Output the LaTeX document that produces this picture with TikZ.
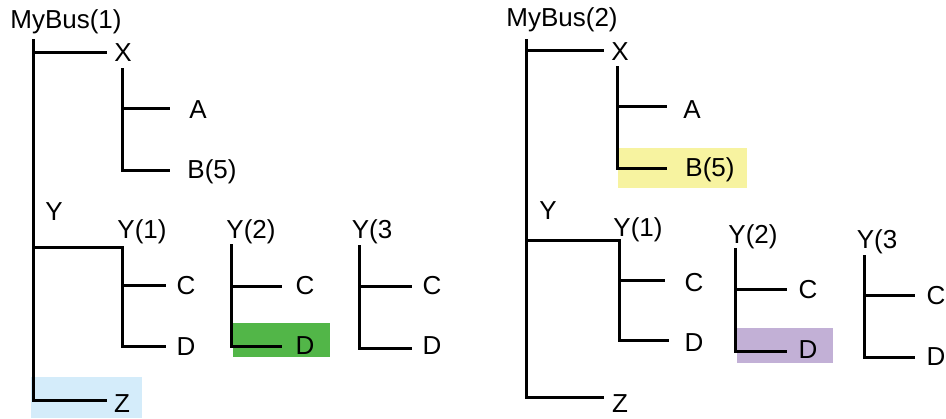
\documentclass[tikz,border=0pt]{standalone}
\usepackage{fontspec}
\setmainfont{Liberation Sans}
\usetikzlibrary{positioning}
\definecolor{ZoneBlue}{RGB}{212,236,250}
\definecolor{HitGreen}{RGB}{82,182,72}
\definecolor{MarkYellow}{RGB}{247,243,160}
\definecolor{MarkPurple}{RGB}{194,176,214}
\tikzset{
  lbl/.style={inner sep=0pt,font=\fontsize{13}{15}\selectfont},
  branch/.style={line width=1.5pt,draw=black,line cap=rect},
  hlblue/.style={fill=ZoneBlue},
  hlgreen/.style={fill=HitGreen},
  hlyellow/.style={fill=MarkYellow},
  hlpurple/.style={fill=MarkPurple}
}
\begin{document}
\begin{tikzpicture}[x=0.5pt,y=-0.5pt]
\useasboundingbox (0,0) rectangle (946,418);

% highlights
\fill[hlblue] (31,377) rectangle (142,418);
\fill[hlgreen] (233,323) rectangle (330,357);
\fill[hlyellow] (618,148) rectangle (747,188);
\fill[hlpurple] (737,328) rectangle (833,363);

% left tree
\node[lbl] (bus1) at (66,22) {MyBus(1)};
\node[lbl] (x1) at (123,53) {X};
\node[lbl] (a1) at (198,110) {A};
\node[lbl] (b1) at (212,172) {B(5)};
\node[lbl] (y1) at (54,212) {Y};
\node[lbl] (y11) at (142,232) {Y(1)};
\node[lbl] (c11) at (186,286) {C};
\node[lbl] (d11) at (186,347) {D};
\node[lbl] (y12) at (251,232) {Y(2)};
\node[lbl] (c12) at (305,286) {C};
\node[lbl] (d12) at (305,346) {D};
\node[lbl] (y13) at (372,232) {Y(3};
\node[lbl] (c13) at (432,286) {C};
\node[lbl] (d13) at (432,346) {D};
\node[lbl] (z1) at (122,404) {Z};

\coordinate (s1) at (33,40);
\coordinate (x1e) at (105,52);
\coordinate (z1e) at (105,400);
\coordinate (x1t) at (122,69);
\coordinate (a1e) at (168,108);
\coordinate (b1e) at (168,170);
\coordinate (y1e) at (122,247);
\coordinate (c11e) at (164,285);
\coordinate (d11e) at (164,346);
\coordinate (y12t) at (231,245);
\coordinate (c12e) at (280,286);
\coordinate (d12e) at (280,346);
\coordinate (y13t) at (359,246);
\coordinate (c13e) at (410,286);
\coordinate (d13e) at (410,348);

\draw[branch] (s1) |- (z1e);
\draw[branch] (s1 |- x1e) -- (x1e);
\draw[branch] (x1t) |- (b1e);
\draw[branch] (x1t |- a1e) -- (a1e);
\draw[branch] (s1 |- y1e) -- (y1e) |- (d11e);
\draw[branch] (y1e |- c11e) -- (c11e);
\draw[branch] (y12t) |- (d12e);
\draw[branch] (y12t |- c12e) -- (c12e);
\draw[branch] (y13t) |- (d13e);
\draw[branch] (y13t |- c13e) -- (c13e);

% right tree
\node[lbl] (bus2) at (562,20) {MyBus(2)};
\node[lbl] (x2) at (620,52) {X};
\node[lbl] (a2) at (692,110) {A};
\node[lbl] (b2) at (710,170) {B(5)};
\node[lbl] (y2) at (548,211) {Y};
\node[lbl] (y21) at (638,230) {Y(1)};
\node[lbl] (c21) at (694,283) {C};
\node[lbl] (d21) at (694,343) {D};
\node[lbl] (y22) at (753,237) {Y(2)};
\node[lbl] (c22) at (808,290) {C};
\node[lbl] (d22) at (808,350) {D};
\node[lbl] (y23) at (877,242) {Y(3};
\node[lbl] (c23) at (936,296) {C};
\node[lbl] (d23) at (936,357) {D};
\node[lbl] (z2) at (620,404) {Z};

\coordinate (s2) at (526,40);
\coordinate (x2e) at (602,50);
\coordinate (z2e) at (602,397);
\coordinate (x2t) at (617,67);
\coordinate (a2e) at (665,106);
\coordinate (b2e) at (665,168);
\coordinate (y2e) at (619,240);
\coordinate (c21e) at (663,280);
\coordinate (d21e) at (667,340);
\coordinate (y22t) at (735,249);
\coordinate (c22e) at (785,289);
\coordinate (d22e) at (785,351);
\coordinate (y23t) at (864,256);
\coordinate (c23e) at (913,295);
\coordinate (d23e) at (913,357);

\draw[branch] (s2) |- (z2e);
\draw[branch] (s2 |- x2e) -- (x2e);
\draw[branch] (x2t) |- (b2e);
\draw[branch] (x2t |- a2e) -- (a2e);
\draw[branch] (s2 |- y2e) -- (y2e) |- (d21e);
\draw[branch] (y2e |- c21e) -- (c21e);
\draw[branch] (y22t) |- (d22e);
\draw[branch] (y22t |- c22e) -- (c22e);
\draw[branch] (y23t) |- (d23e);
\draw[branch] (y23t |- c23e) -- (c23e);
\end{tikzpicture}
\end{document}
